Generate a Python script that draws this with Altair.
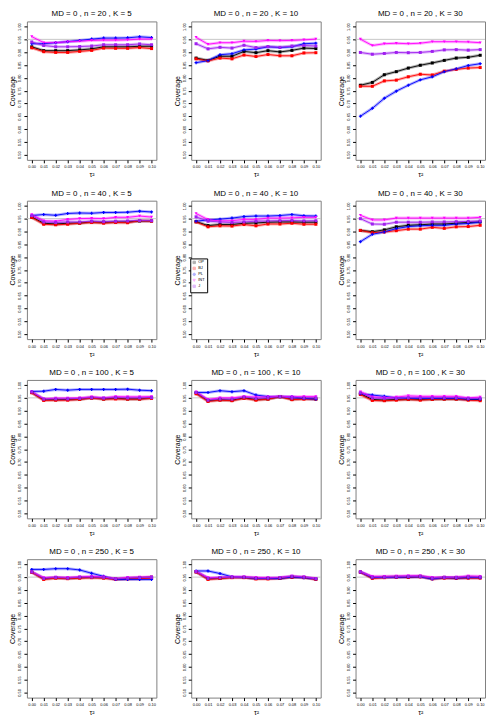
import altair as alt
import pandas as pd

TAU2 = [0.00, 0.01, 0.02, 0.03, 0.04, 0.05, 0.06, 0.07, 0.08, 0.09, 0.10]
METHODS = ["OP", "BJ", "PL", "INT", "J"]
COLORS = ["#000000", "#ff0000", "#0000ff", "#ff00ff", "#a020f0"]
SHAPES = ["square", "square", "cross", "triangle-down", "square"]
N_VALUES = [20, 40, 100, 250]
K_VALUES = [5, 10, 30]

cov_n20_k5 = {
    "OP": [0.921, 0.906, 0.906, 0.906, 0.909, 0.913, 0.921, 0.921, 0.921, 0.923, 0.923],
    "BJ": [0.917, 0.902, 0.899, 0.899, 0.903, 0.907, 0.916, 0.915, 0.915, 0.918, 0.914],
    "PL": [0.933, 0.933, 0.937, 0.941, 0.946, 0.951, 0.955, 0.955, 0.956, 0.960, 0.957],
    "INT": [0.961, 0.937, 0.937, 0.941, 0.943, 0.946, 0.947, 0.947, 0.948, 0.951, 0.951],
    "J": [0.940, 0.926, 0.921, 0.921, 0.922, 0.924, 0.929, 0.929, 0.929, 0.932, 0.929],
}
cov_n20_k10 = {
    "OP": [0.877, 0.868, 0.884, 0.884, 0.903, 0.898, 0.906, 0.901, 0.907, 0.916, 0.914],
    "BJ": [0.874, 0.866, 0.877, 0.874, 0.889, 0.883, 0.891, 0.886, 0.886, 0.897, 0.898],
    "PL": [0.859, 0.867, 0.890, 0.894, 0.909, 0.912, 0.921, 0.918, 0.921, 0.933, 0.935],
    "INT": [0.958, 0.931, 0.937, 0.937, 0.943, 0.942, 0.946, 0.945, 0.946, 0.948, 0.951],
    "J": [0.933, 0.913, 0.919, 0.916, 0.927, 0.918, 0.922, 0.919, 0.924, 0.926, 0.924],
}
cov_n20_k30 = {
    "OP": [0.771, 0.782, 0.812, 0.824, 0.838, 0.849, 0.858, 0.868, 0.877, 0.880, 0.888],
    "BJ": [0.767, 0.767, 0.788, 0.791, 0.804, 0.814, 0.811, 0.826, 0.833, 0.838, 0.840],
    "PL": [0.650, 0.681, 0.720, 0.748, 0.771, 0.792, 0.804, 0.824, 0.835, 0.848, 0.855],
    "INT": [0.951, 0.926, 0.933, 0.935, 0.933, 0.935, 0.941, 0.941, 0.941, 0.940, 0.937],
    "J": [0.899, 0.892, 0.895, 0.899, 0.898, 0.899, 0.903, 0.909, 0.910, 0.908, 0.910],
}
cov_n40_k5 = {
    "OP": [0.956, 0.932, 0.929, 0.932, 0.933, 0.937, 0.936, 0.937, 0.937, 0.941, 0.941],
    "BJ": [0.955, 0.928, 0.926, 0.928, 0.932, 0.935, 0.932, 0.935, 0.934, 0.942, 0.940],
    "PL": [0.962, 0.966, 0.963, 0.970, 0.972, 0.971, 0.974, 0.974, 0.975, 0.979, 0.976],
    "INT": [0.966, 0.942, 0.940, 0.947, 0.950, 0.951, 0.950, 0.955, 0.955, 0.960, 0.956],
    "J": [0.962, 0.937, 0.935, 0.937, 0.937, 0.940, 0.938, 0.940, 0.941, 0.943, 0.942],
}
cov_n40_k10 = {
    "OP": [0.938, 0.923, 0.927, 0.927, 0.932, 0.933, 0.936, 0.937, 0.937, 0.936, 0.936],
    "BJ": [0.937, 0.918, 0.922, 0.921, 0.927, 0.922, 0.929, 0.929, 0.932, 0.928, 0.928],
    "PL": [0.940, 0.945, 0.948, 0.952, 0.958, 0.960, 0.960, 0.962, 0.966, 0.961, 0.960],
    "INT": [0.970, 0.946, 0.941, 0.942, 0.947, 0.947, 0.952, 0.952, 0.953, 0.955, 0.955],
    "J": [0.957, 0.940, 0.937, 0.935, 0.937, 0.940, 0.941, 0.942, 0.943, 0.941, 0.942],
}
cov_n40_k30 = {
    "OP": [0.904, 0.899, 0.906, 0.918, 0.924, 0.926, 0.929, 0.929, 0.932, 0.935, 0.937],
    "BJ": [0.904, 0.895, 0.898, 0.903, 0.909, 0.909, 0.916, 0.912, 0.918, 0.919, 0.924],
    "PL": [0.860, 0.889, 0.898, 0.911, 0.919, 0.922, 0.924, 0.924, 0.929, 0.931, 0.937],
    "INT": [0.963, 0.945, 0.945, 0.952, 0.952, 0.952, 0.952, 0.952, 0.952, 0.952, 0.955],
    "J": [0.950, 0.929, 0.928, 0.936, 0.936, 0.936, 0.937, 0.937, 0.938, 0.939, 0.941],
}
cov_n100_k5 = {
    "OP": [0.971, 0.943, 0.943, 0.944, 0.945, 0.950, 0.946, 0.949, 0.946, 0.946, 0.950],
    "BJ": [0.970, 0.940, 0.941, 0.941, 0.944, 0.949, 0.945, 0.946, 0.945, 0.945, 0.948],
    "PL": [0.975, 0.976, 0.983, 0.980, 0.983, 0.983, 0.983, 0.983, 0.984, 0.980, 0.978],
    "INT": [0.974, 0.946, 0.949, 0.949, 0.950, 0.954, 0.950, 0.955, 0.954, 0.954, 0.955],
    "J": [0.973, 0.945, 0.946, 0.946, 0.948, 0.951, 0.949, 0.951, 0.950, 0.950, 0.951],
}
cov_n100_k10 = {
    "OP": [0.970, 0.939, 0.943, 0.941, 0.950, 0.944, 0.946, 0.955, 0.945, 0.948, 0.946],
    "BJ": [0.966, 0.936, 0.941, 0.939, 0.948, 0.941, 0.945, 0.954, 0.943, 0.945, 0.945],
    "PL": [0.971, 0.971, 0.978, 0.974, 0.978, 0.961, 0.955, 0.954, 0.954, 0.948, 0.945],
    "INT": [0.974, 0.944, 0.950, 0.950, 0.955, 0.953, 0.954, 0.956, 0.954, 0.955, 0.955],
    "J": [0.971, 0.941, 0.946, 0.945, 0.953, 0.948, 0.950, 0.955, 0.949, 0.950, 0.950],
}
cov_n100_k30 = {
    "OP": [0.966, 0.944, 0.941, 0.944, 0.945, 0.944, 0.945, 0.946, 0.946, 0.944, 0.943],
    "BJ": [0.963, 0.940, 0.939, 0.941, 0.944, 0.941, 0.944, 0.945, 0.945, 0.941, 0.939],
    "PL": [0.966, 0.961, 0.956, 0.950, 0.949, 0.948, 0.948, 0.948, 0.948, 0.945, 0.945],
    "INT": [0.974, 0.954, 0.951, 0.953, 0.958, 0.956, 0.956, 0.956, 0.956, 0.950, 0.953],
    "J": [0.970, 0.949, 0.948, 0.948, 0.951, 0.951, 0.951, 0.951, 0.951, 0.948, 0.948],
}
cov_n250_k5 = {
    "OP": [0.970, 0.944, 0.948, 0.945, 0.948, 0.949, 0.948, 0.943, 0.945, 0.948, 0.950],
    "BJ": [0.969, 0.941, 0.946, 0.944, 0.946, 0.948, 0.946, 0.941, 0.943, 0.944, 0.946],
    "PL": [0.980, 0.980, 0.983, 0.983, 0.978, 0.965, 0.953, 0.941, 0.941, 0.941, 0.941],
    "INT": [0.971, 0.948, 0.950, 0.949, 0.951, 0.953, 0.951, 0.944, 0.949, 0.950, 0.951],
    "J": [0.970, 0.945, 0.949, 0.946, 0.950, 0.950, 0.949, 0.943, 0.946, 0.948, 0.949],
}
cov_n250_k10 = {
    "OP": [0.971, 0.944, 0.946, 0.949, 0.949, 0.945, 0.945, 0.946, 0.951, 0.949, 0.943],
    "BJ": [0.970, 0.941, 0.945, 0.948, 0.948, 0.943, 0.943, 0.945, 0.949, 0.948, 0.941],
    "PL": [0.974, 0.974, 0.964, 0.951, 0.949, 0.945, 0.945, 0.945, 0.950, 0.948, 0.943],
    "INT": [0.973, 0.948, 0.949, 0.951, 0.951, 0.949, 0.948, 0.949, 0.954, 0.951, 0.945],
    "J": [0.971, 0.945, 0.948, 0.950, 0.950, 0.946, 0.946, 0.948, 0.953, 0.950, 0.944],
}
cov_n250_k30 = {
    "OP": [0.970, 0.949, 0.950, 0.951, 0.951, 0.953, 0.945, 0.949, 0.948, 0.950, 0.949],
    "BJ": [0.969, 0.945, 0.948, 0.949, 0.949, 0.951, 0.943, 0.946, 0.945, 0.946, 0.946],
    "PL": [0.970, 0.948, 0.949, 0.949, 0.950, 0.951, 0.943, 0.948, 0.946, 0.948, 0.948],
    "INT": [0.971, 0.953, 0.953, 0.954, 0.955, 0.955, 0.949, 0.950, 0.950, 0.954, 0.953],
    "J": [0.970, 0.950, 0.950, 0.951, 0.953, 0.953, 0.946, 0.949, 0.949, 0.951, 0.950],
}

PANELS = {
    (20, 5): cov_n20_k5, (20, 10): cov_n20_k10, (20, 30): cov_n20_k30,
    (40, 5): cov_n40_k5, (40, 10): cov_n40_k10, (40, 30): cov_n40_k30,
    (100, 5): cov_n100_k5, (100, 10): cov_n100_k10, (100, 30): cov_n100_k30,
    (250, 5): cov_n250_k5, (250, 10): cov_n250_k10, (250, 30): cov_n250_k30,
}
Y_TICKS = [0.50, 0.55, 0.60, 0.65, 0.70, 0.75, 0.80, 0.85, 0.90, 0.95, 1.00]
REF_LINE = [0.95]

PW, PH = 130, 139

color_scale = alt.Scale(domain=METHODS, range=COLORS)
shape_scale = alt.Scale(domain=METHODS, range=SHAPES)
legend = alt.Legend(
    orient="none", legendX=164, legendY=238, title=None,
    labelFontSize=4, symbolSize=6, symbolStrokeWidth=1,
    rowPadding=-4, padding=2, strokeColor="#000000", fillColor="white",
    labelOffset=2, symbolOffset=0, cornerRadius=0,
)

x_axis = alt.Axis(values=TAU2, format=".2f", labelFontSize=4, labelAngle=0,
                  title="τ²", titleFontSize=7, titleFontWeight="normal",
                  titlePadding=2, tickSize=3, domain=False, grid=False,
                  labelPadding=2, tickColor="#000000", labelColor="#000000")
y_axis = alt.Axis(values=Y_TICKS, format=".2f", labelFontSize=4, labelAngle=270,
                  labelAlign="center", labelBaseline="bottom",
                  title="Coverage", titleFontSize=7, titleFontWeight="normal",
                  titlePadding=2, tickSize=3, domain=False, grid=False,
                  labelPadding=2, tickColor="#000000", labelColor="#000000")
x_scale = alt.Scale(domain=[-0.004, 0.104], nice=False, zero=False)
y_scale = alt.Scale(domain=[0.48, 1.02], nice=False, zero=False)


def panel(n, k):
    vals = PANELS[(n, k)]
    rows = []
    for m in METHODS:
        for t, c in zip(TAU2, vals[m]):
            rows.append({"method": m, "tau2": t, "coverage": c})
    d = pd.DataFrame(rows)
    base = alt.Chart(d).encode(
        x=alt.X("tau2:Q", scale=x_scale, axis=x_axis),
        y=alt.Y("coverage:Q", scale=y_scale, axis=y_axis),
        color=alt.Color("method:N", scale=color_scale, legend=legend),
    )
    ref = alt.Chart(pd.DataFrame({"ref": REF_LINE})).mark_rule(
        color="#c8c8c8", strokeWidth=1
    ).encode(y=alt.Y("ref:Q", scale=y_scale, axis=y_axis))
    halo = base.mark_line(strokeWidth=3, opacity=0.3)
    line = base.mark_line(strokeWidth=0.9)
    pts = base.mark_point(filled=True, size=9, opacity=1).encode(
        shape=alt.Shape("method:N", scale=shape_scale, legend=legend),
    )
    return alt.layer(ref, halo, line, pts).properties(
        width=PW, height=PH,
        title=alt.TitleParams(f"MD = 0 , n = {n} , K = {k}", fontSize=8,
                              fontWeight="normal", offset=3, color="#000000"),
    )


rows = []
for n in N_VALUES:
    rows.append(alt.hconcat(*[panel(n, k) for k in K_VALUES], spacing=14))

chart = alt.vconcat(*rows, spacing=10).properties(
    padding={"left": 0, "top": 0, "right": 0, "bottom": 0}
).configure(font="Liberation Sans").configure_view(
    stroke="#808080", strokeWidth=1
)

chart.save("out.html", embed_options={"renderer": "svg", "actions": False})
